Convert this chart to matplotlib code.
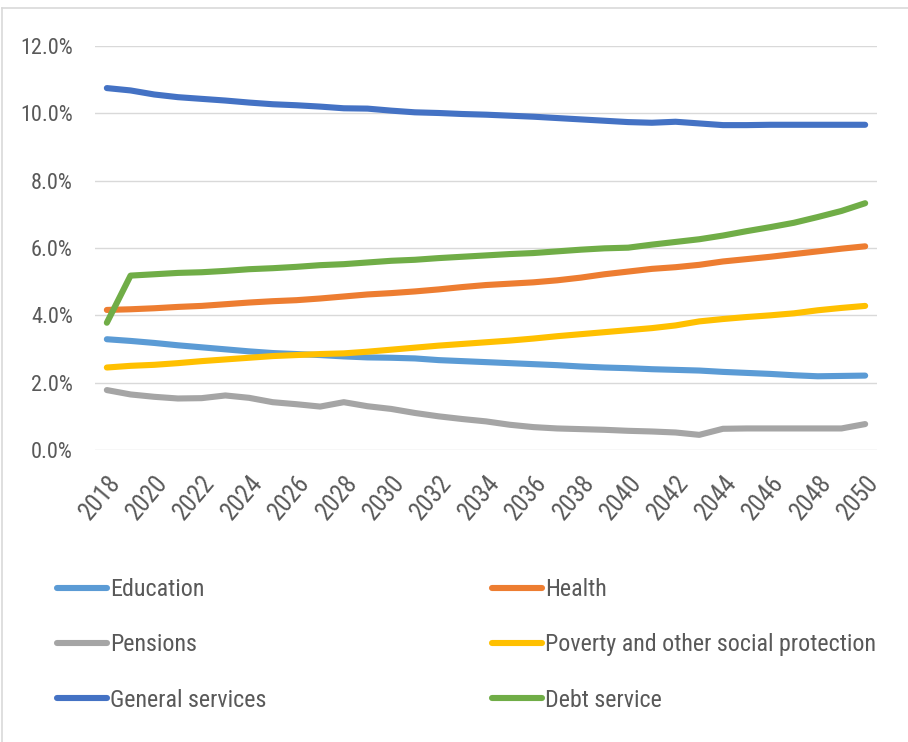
import matplotlib
matplotlib.use("Agg")
import matplotlib.pyplot as plt
from matplotlib import font_manager
from matplotlib.lines import Line2D
from matplotlib.ticker import FuncFormatter, FixedLocator

years = list(range(2018, 2051))

education = [3.29, 3.24, 3.18, 3.11, 3.05, 2.99, 2.93, 2.88, 2.85, 2.82, 2.78,
             2.75, 2.74, 2.72, 2.67, 2.64, 2.61, 2.58, 2.55, 2.52, 2.48, 2.45,
             2.43, 2.40, 2.38, 2.36, 2.32, 2.29, 2.26, 2.22, 2.19, 2.20, 2.21]
health = [4.16, 4.18, 4.21, 4.25, 4.28, 4.33, 4.38, 4.42, 4.45, 4.50, 4.56,
          4.62, 4.66, 4.71, 4.77, 4.84, 4.90, 4.94, 4.98, 5.04, 5.12, 5.22,
          5.30, 5.38, 5.43, 5.50, 5.60, 5.67, 5.74, 5.82, 5.90, 5.98, 6.05]
pensions = [1.78, 1.65, 1.58, 1.53, 1.54, 1.62, 1.55, 1.42, 1.36, 1.29, 1.42,
            1.30, 1.22, 1.10, 1.00, 0.92, 0.85, 0.75, 0.68, 0.64, 0.62, 0.60,
            0.57, 0.55, 0.52, 0.45, 0.63, 0.64, 0.64, 0.64, 0.64, 0.64, 0.77]
poverty = [2.45, 2.50, 2.53, 2.58, 2.64, 2.69, 2.74, 2.79, 2.82, 2.85, 2.87,
           2.92, 2.98, 3.04, 3.10, 3.15, 3.20, 3.25, 3.31, 3.38, 3.44, 3.50,
           3.56, 3.62, 3.70, 3.82, 3.89, 3.95, 4.00, 4.06, 4.15, 4.22, 4.28]
general_services = [10.75, 10.68, 10.56, 10.48, 10.43, 10.38, 10.32, 10.27,
                    10.24, 10.20, 10.15, 10.14, 10.08, 10.03, 10.01, 9.98,
                    9.96, 9.93, 9.90, 9.86, 9.82, 9.78, 9.74, 9.72, 9.75,
                    9.70, 9.65, 9.65, 9.66, 9.66, 9.66, 9.66, 9.66]
debt_service = [3.78, 5.18, 5.22, 5.26, 5.28, 5.32, 5.37, 5.40, 5.44, 5.49,
                5.52, 5.57, 5.62, 5.65, 5.70, 5.74, 5.78, 5.82, 5.85, 5.90,
                5.95, 5.99, 6.01, 6.10, 6.18, 6.26, 6.37, 6.50, 6.62, 6.75,
                6.92, 7.10, 7.33]

series_names = ["Education", "Health", "Pensions",
                "Poverty and other social protection",
                "General services", "Debt service"]
series_values = [education, health, pensions, poverty, general_services,
                 debt_service]
series_colors = ["#5B9BD5", "#ED7D31", "#A5A5A5", "#FFC000", "#4472C4",
                 "#70AD47"]

y_ticks = [0, 2, 4, 6, 8, 10, 12]
x_tick_years = list(range(2018, 2051, 2))


def pick_font(candidates):
    for name in candidates:
        try:
            font_manager.findfont(name, fallback_to_default=False)
            return name
        except Exception:
            continue
    return "DejaVu Sans"


main_font = pick_font(["Liberation Sans Narrow", "Roboto Condensed",
                       "Open Sans Condensed", "Roboto", "Liberation Sans"])
plt.rcParams["font.family"] = [main_font, "DejaVu Sans"]
TEXT_COLOR = "#595959"

fig = plt.figure(figsize=(9.08, 7.42), dpi=100)
ax = fig.add_axes([95 / 908, 1 - 450 / 742, 782 / 908, 404 / 742])

lines = []
for name, vals, col in zip(series_names, series_values, series_colors):
    ln, = ax.plot(years, vals, color=col, lw=4.4, label=name,
                  solid_capstyle="round", solid_joinstyle="round", zorder=3)
    lines.append(ln)

ax.set_xlim(2017.5, 2050.5)
ax.set_ylim(0, 12)
ax.yaxis.set_major_locator(FixedLocator(y_ticks))
ax.yaxis.set_major_formatter(FuncFormatter(lambda v, p: f"{v:.1f}%"))
ax.xaxis.set_major_locator(FixedLocator(x_tick_years))
ax.set_xticklabels([str(y) for y in x_tick_years], rotation=50,
                   ha="right", va="top", rotation_mode="anchor")

ax.grid(axis="y", color="#D9D9D9", lw=1.0, zorder=0)
for s in ax.spines.values():
    s.set_visible(False)
ax.tick_params(axis="y", length=0, colors=TEXT_COLOR, labelsize=16, pad=16)
ax.tick_params(axis="x", length=0, colors=TEXT_COLOR, labelsize=18, pad=15)

# legend in two columns below the plot
order_left = [0, 2, 4]
order_right = [1, 3, 5]
common = dict(frameon=False, fontsize=17.3, handlelength=2.1,
              handletextpad=0.12, labelspacing=1.35, borderpad=0,
              borderaxespad=0, labelcolor=TEXT_COLOR)
leg1 = fig.legend([lines[i] for i in order_left],
                  [series_names[i] for i in order_left],
                  loc="upper left", bbox_to_anchor=(57 / 908, 1 - 578 / 742),
                  **common)
leg2 = fig.legend([lines[i] for i in order_right],
                  [series_names[i] for i in order_right],
                  loc="upper left", bbox_to_anchor=(492 / 908, 1 - 578 / 742),
                  **common)

# chart frame edges
fig.add_artist(Line2D([1.5 / 908, 1.5 / 908], [0, 1 - 8 / 742],
                      transform=fig.transFigure, color="#D9D9D9", lw=1.2))
fig.add_artist(Line2D([1.5 / 908, 1], [1 - 8 / 742, 1 - 8 / 742],
                      transform=fig.transFigure, color="#D9D9D9", lw=1.2))

fig.savefig("out.png", dpi=100, facecolor="white")
